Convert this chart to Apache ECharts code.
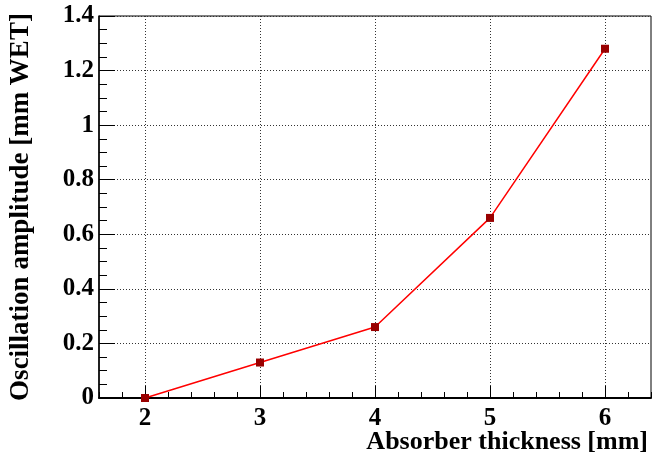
<!DOCTYPE html>
<html><head><meta charset="utf-8">
<script src="https://cdn.jsdelivr.net/npm/echarts@6/dist/echarts.min.js"></script>
<style>html,body{margin:0;padding:0;background:#fff}#c{width:652px;height:457px}</style>
</head><body><div id="c"></div>
<script>
const thickness = [2, 3, 4, 5, 6];
const amplitude = [0, 0.13, 0.26, 0.66, 1.28];
const xMajorTicks = [2, 3, 4, 5, 6];
const xTitle = 'Absorber thickness [mm]';
const yTitle = 'Oscillation amplitude [mm WET]';

const font = 'Liberation Serif';
const chart = echarts.init(document.getElementById('c'));
const grid = { left: 97, right: 1, top: 16, bottom: 59, show: true, borderColor: '#000', borderWidth: 1, backgroundColor: 'transparent' };
const dotted = { show: true, lineStyle: { color: '#333', type: [1, 2], width: 1 } };
chart.setOption({
  animation: false,
  grid: grid,
  xAxis: [
    { type: 'value', min: 1.6, max: 6.4, interval: 0.2, position: 'bottom',
      axisLine: { show: true, onZero: false, lineStyle: { color: '#000', width: 2 } },
      axisTick: { show: true, inside: true, length: 6, lineStyle: { color: '#000', width: 1 } },
      axisLabel: { show: false }, splitLine: { show: false },
      name: xTitle, nameLocation: 'end', nameGap: -3,
      nameTextStyle: { fontFamily: font, fontWeight: 'bold', fontSize: 26, color: '#000', align: 'right', verticalAlign: 'top', padding: [31, 0, 0, 0] } },
    { type: 'value', min: 1.6, max: 6.4, position: 'bottom',
      axisLine: { show: false, onZero: false },
      axisTick: { show: true, inside: true, length: 12, customValues: xMajorTicks, lineStyle: { color: '#000', width: 1 } },
      axisLabel: { show: true, customValues: xMajorTicks, margin: 8, fontFamily: font, fontWeight: 'bold', fontSize: 25, color: '#000' },
      splitLine: dotted }
  ],
  yAxis: { type: 'value', min: 0, max: 1.4, interval: 0.2,
    axisLine: { show: true, onZero: false, lineStyle: { color: '#000', width: 1.5 } },
    axisTick: { show: true, inside: true, length: 16, lineStyle: { color: '#000', width: 1 } },
    minorTick: { show: true, splitNumber: 4, length: 8, lineStyle: { color: '#000', width: 1 } },
    axisLabel: { margin: 5, fontFamily: font, fontWeight: 'bold', fontSize: 25, color: '#000' },
    splitLine: dotted,
    name: yTitle, nameLocation: 'middle', nameGap: 64, nameRotate: 90,
    nameTextStyle: { fontFamily: font, fontWeight: 'bold', fontSize: 27, color: '#000' } },
  series: [{
    type: 'line', xAxisIndex: 0, data: thickness.map((x, i) => [x, amplitude[i]]),
    lineStyle: { color: '#ff0000', width: 1.5 },
    symbol: 'rect', symbolSize: 8, showAllSymbol: true,
    itemStyle: { color: '#990000', borderWidth: 0 }, z: 5
  }]
});
</script></body></html>
